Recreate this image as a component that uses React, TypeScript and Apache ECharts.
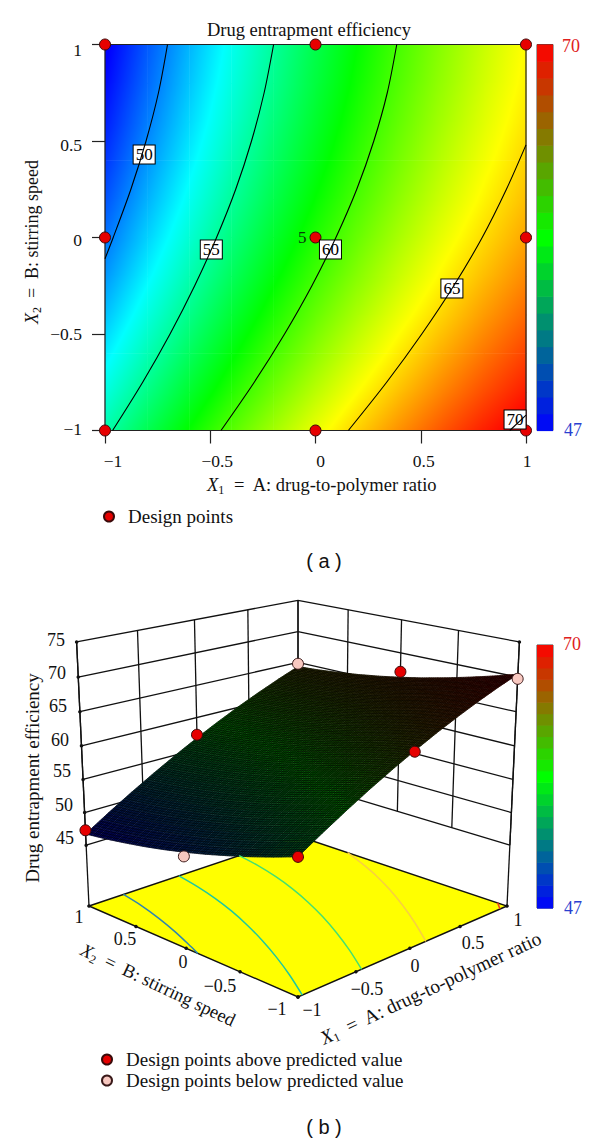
import React, { useEffect, useRef } from "react";
import * as echarts from "echarts";

const SERIF = '"Liberation Serif", serif';

// ---------- data ----------
const x1Nodes = [-1, -0.8, -0.6, -0.4, -0.2, 0, 0.2, 0.4, 0.6, 0.8, 1];
const x2Nodes = [1, 0.8, 0.6, 0.4, 0.2, 0, -0.2, -0.4, -0.6, -0.8, -1];
const efficiencyRows = [
  [46.74, 48.96, 51.07, 53.08, 54.99, 56.8, 58.51, 60.11, 61.6, 63.0, 64.3],
  [47.13, 49.33, 51.42, 53.42, 55.31, 57.1, 58.79, 60.37, 61.85, 63.23, 64.51],
  [47.62, 49.8, 51.87, 53.85, 55.73, 57.5, 59.17, 60.74, 62.2, 63.56, 64.82],
  [48.18, 50.35, 52.4, 54.37, 56.22, 57.98, 59.64, 61.18, 62.63, 63.97, 65.22],
  [48.83, 50.98, 53.02, 54.96, 56.8, 58.54, 60.18, 61.71, 63.13, 64.46, 65.69],
  [49.58, 51.71, 53.73, 55.66, 57.48, 59.2, 60.82, 62.33, 63.74, 65.05, 66.26],
  [50.41, 52.52, 54.52, 56.44, 58.24, 59.94, 61.54, 63.03, 64.43, 65.72, 66.91],
  [51.34, 53.43, 55.42, 57.31, 59.1, 60.78, 62.36, 63.84, 65.21, 66.49, 67.66],
  [52.34, 54.42, 56.39, 58.27, 60.03, 61.7, 63.27, 64.72, 66.08, 67.34, 68.5],
  [53.43, 55.49, 57.44, 59.3, 61.05, 62.7, 64.25, 65.69, 67.03, 68.27, 69.41],
  [54.62, 56.66, 58.59, 60.44, 62.17, 63.8, 65.33, 66.75, 68.08, 69.3, 70.42],
];

const contour50 = [[-0.703, 1], [-0.746, 0.75], [-0.805, 0.5], [-0.877, 0.25], [-0.961, 0], [-1, -0.11]];
const contour55 = [[-0.199, 1], [-0.244, 0.75], [-0.304, 0.5], [-0.379, 0.25], [-0.47, 0], [-0.574, -0.25], [-0.691, -0.5], [-0.821, -0.75], [-0.964, -1]];
const contour60 = [[0.386, 1], [0.341, 0.75], [0.277, 0.5], [0.196, 0.25], [0.097, 0], [-0.017, -0.25], [-0.147, -0.5], [-0.291, -0.75], [-0.449, -1]];
const contour65 = [[1, 0.48], [0.907, 0.25], [0.792, 0], [0.657, -0.25], [0.505, -0.5], [0.338, -0.75], [0.156, -1]];
const contour70 = [[1, -0.92], [0.923, -1]];

const contourLabels = [
  { value: [-0.814, 0.43], text: "50" },
  { value: [-0.495, -0.062], text: "55" },
  { value: [0.071, -0.062], text: "60" },
  { value: [0.648, -0.264], text: "65" },
  { value: [0.948, -0.943], text: "70" },
];

const designX1 = [-1, 0, 1];
const designX2 = [1, 0, -1];
const centerReplicates = "5";

const axisTicks = [-1, -0.5, 0, 0.5, 1];
const axisTickLabels = ["−1", "−0.5", "0", "0.5", "1"];
const colorbarLevels = [47, 48, 49, 50, 51, 52, 53, 54, 55, 56, 57, 58, 59, 60, 61, 62, 63, 64, 65, 66, 67, 68, 69];

const pointsAbove = [[-1, 1, 47.3], [-1, -1, 54.6], [0, 1, 57.3], [0, -1, 63.65], [1, 0, 67.1]];
const pointsBelow = [[-1, 0, 48.97], [1, -1, 69.75]];
const pointsBelowBehind = [[1, 1, 64.76]];
const stems = [[0, 1, 57.3, 0, 1, 56.8], [1, 0, 67.1, 1, 0, 66.26]];

const zTicks = [45, 50, 55, 60, 65, 70, 75];
const zTickLabels = ["45", "50", "55", "60", "65", "70", "75"];
const zLabelPos = [[65, 838], [64, 805], [62, 771], [60, 740], [58, 706], [57, 673], [56, 640]];
const x2FloorLabelPos = [[277, 1009], [220, 986], [183, 962], [125, 939], [79, 917]];
const x1FloorLabelPos = [[312, 1010], [367, 989], [415, 966], [473, 943], [518, 920]];

const floorColors = { 50: "#2f86b0", 55: "#1fc8a0", 60: "#45e070", 65: "#f8d040", 70: "#f04020" };

// ---------- scales ----------
const FLOOR_Z = 35.5;
const TOP_Z = 75;
function project(x1: number, x2: number, z: number) {
  const u = (x1 - x2) / 2;
  const v = (x1 + x2) / 2;
  const t = (z - FLOOR_Z) / (TOP_Z - FLOOR_Z);
  const w = 1 + 0.1304 * v - 0.056 * t;
  return [298 + (209 * u) / w, (906 + 39 * v - 300 * t) / w];
}

type RGB = number[];
const rainbowStops: [number, RGB][] = [
  [47, [0, 0, 255]],
  [52.75, [0, 255, 255]],
  [58.5, [0, 255, 0]],
  [64.25, [255, 255, 0]],
  [70, [255, 0, 0]],
];
const rgbStops: [number, RGB][] = [
  [47, [0, 0, 255]],
  [58.5, [0, 255, 0]],
  [70, [255, 0, 0]],
];
function ramp(stops: [number, RGB][], v: number, k = 1) {
  const c = Math.min(stops[stops.length - 1][0], Math.max(stops[0][0], v));
  for (let i = 1; i < stops.length; i++) {
    if (c <= stops[i][0]) {
      const f = (c - stops[i - 1][0]) / (stops[i][0] - stops[i - 1][0]);
      const a = stops[i - 1][1];
      const b = stops[i][1];
      return `rgb(${Math.round((a[0] + (b[0] - a[0]) * f) * k)},${Math.round((a[1] + (b[1] - a[1]) * f) * k)},${Math.round((a[2] + (b[2] - a[2]) * f) * k)})`;
    }
  }
  return "#000";
}

function cellFill(px: number, py: number, w: number, h: number, tl: number, tr: number, bl: number, br: number) {
  const gx = ((tr - tl + br - bl) / 2) / w;
  const gy = ((bl - tl + br - tr) / 2) / h;
  const vc = (tl + tr + bl + br) / 4;
  const dv = (Math.abs(gx) * w) / 2 + (Math.abs(gy) * h) / 2 + 0.01;
  const g2 = gx * gx + gy * gy;
  const cx = px + w / 2;
  const cy = py + h / 2;
  const lo = vc - dv;
  const hi = vc + dv;
  const offs = [0, 1];
  rainbowStops.forEach(([b]) => {
    if (b > lo && b < hi) offs.push((b - lo) / (hi - lo));
  });
  offs.sort((a, b) => a - b);
  return new echarts.graphic.LinearGradient(
    cx - (gx / g2) * dv,
    cy - (gy / g2) * dv,
    cx + (gx / g2) * dv,
    cy + (gy / g2) * dv,
    offs.map((o) => ({ offset: o, color: ramp(rainbowStops, lo + o * (hi - lo)) })),
    true
  );
}

function efficiencyAt(x1: number, x2: number) {
  const fx = Math.min(9.999, Math.max(0, (x1 + 1) / 0.2));
  const fy = Math.min(9.999, Math.max(0, (1 - x2) / 0.2));
  const i = Math.floor(fx);
  const j = Math.floor(fy);
  const a = fx - i;
  const b = fy - j;
  const r0 = efficiencyRows[j];
  const r1 = efficiencyRows[j + 1];
  return (r0[i] * (1 - a) + r0[i + 1] * a) * (1 - b) + (r1[i] * (1 - a) + r1[i + 1] * a) * b;
}

// ---------- derived series data ----------
const heatCells: number[][] = [];
for (let j = 0; j < x2Nodes.length - 1; j++) {
  for (let i = 0; i < x1Nodes.length - 1; i++) {
    heatCells.push([
      x1Nodes[i], x2Nodes[j], x1Nodes[i + 1], x2Nodes[j + 1],
      efficiencyRows[j][i], efficiencyRows[j][i + 1], efficiencyRows[j + 1][i], efficiencyRows[j + 1][i + 1],
    ]);
  }
}
const designGrid: number[][] = [];
designX1.forEach((a) => designX2.forEach((b) => designGrid.push([a, b])));

const wallSegments: number[][] = [];
zTicks.forEach((z) => {
  wallSegments.push([-1, 1, z, 1, 1, z]);
  wallSegments.push([1, 1, z, 1, -1, z]);
});
axisTicks.forEach((t) => {
  wallSegments.push([t, 1, 45, t, 1, 75]);
  wallSegments.push([1, t, 45, 1, t, 75]);
});
wallSegments.push([-1, 1, FLOOR_Z, -1, 1, 75]);
wallSegments.push([1, -1, FLOOR_Z, 1, -1, 75]);

const floorCorners = [[-1, 1], [1, 1], [1, -1], [-1, -1]];
const tickDots: number[][] = [];
zTicks.forEach((z) => tickDots.push(project(-1, 1, z)));
axisTicks.forEach((t) => {
  tickDots.push(project(-1, t, FLOOR_Z));
  tickDots.push(project(t, -1, FLOOR_Z));
});
tickDots.push(project(1, -1, 75));

function segmentRender(params: any, api: any) {
  const a = api.coord(project(api.value(0), api.value(1), api.value(2)));
  const b = api.coord(project(api.value(3), api.value(4), api.value(5)));
  return {
    type: "line",
    shape: { x1: a[0], y1: a[1], x2: b[0], y2: b[1] },
    style: { stroke: "#111", lineWidth: 1.3, fill: "none" },
  };
}

function surfaceRender(params: any, api: any) {
  const children: any[] = [];
  const K = 30;
  for (let i = 0; i < K; i++) {
    for (let j = 0; j < K; j++) {
      const a0 = -1 + (2 * i) / K;
      const a1 = -1 + (2 * (i + 1)) / K;
      const b0 = -1 + (2 * j) / K;
      const b1 = -1 + (2 * (j + 1)) / K;
      const pts = [[a0, b0], [a1, b0], [a1, b1], [a0, b1]].map((p) =>
        api.coord(project(p[0], p[1], efficiencyAt(p[0], p[1])))
      );
      const c = ramp(rgbStops, efficiencyAt((a0 + a1) / 2, (b0 + b1) / 2), 0.36);
      children.push({
        type: "polygon",
        shape: { points: pts },
        style: { fill: c, stroke: c, lineWidth: 0.5 },
      });
    }
  }
  const LINES = 100;
  for (let n = 0; n <= LINES; n++) {
    const c = -1 + (2 * n) / LINES;
    const l1: number[][] = [];
    const l2: number[][] = [];
    for (let s = 0; s <= 20; s++) {
      const t = -1 + s / 10;
      l1.push(api.coord(project(c, t, efficiencyAt(c, t))));
      l2.push(api.coord(project(t, c, efficiencyAt(t, c))));
    }
    children.push({ type: "polyline", shape: { points: l1 }, style: { stroke: "#000", lineWidth: 0.7, opacity: 0.75, fill: "none" } });
    children.push({ type: "polyline", shape: { points: l2 }, style: { stroke: "#000", lineWidth: 0.7, opacity: 0.75, fill: "none" } });
  }
  return { type: "group", children };
}

function colorbarRender(params: any, api: any) {
  const v = api.value(0);
  const a = api.coord([0, v + 1]);
  const b = api.coord([1, v]);
  return {
    type: "rect",
    shape: { x: a[0], y: a[1], width: b[0] - a[0], height: b[1] - a[1] + 0.6 },
    style: { fill: ramp(rgbStops, v + 0.5) },
  };
}

function texts() {
  const out: any[] = [];
  const add = (x: number, y: number, text: string, extra: any = {}, rotation = 0) =>
    out.push({
      type: "text",
      x,
      y,
      rotation,
      z: 20,
      style: { text, fontFamily: SERIF, fontSize: 18, fill: "#111", align: "center", verticalAlign: "middle", ...extra },
    });
  const richOf = (size: number) => ({
    i: { fontFamily: SERIF, fontSize: size, fontStyle: "italic", fill: "#111", lineHeight: 22 },
    s: { fontFamily: SERIF, fontSize: 12, fill: "#111", verticalAlign: "bottom" },
    n: { fontFamily: SERIF, fontSize: size, fill: "#111", lineHeight: 22 },
  });
  add(309, 30, "Drug entrapment efficiency", { fontSize: 18.5 });
  add(322, 485, "{i|X}{s|1}{n|  =  A: drug-to-polymer ratio}", { rich: richOf(18.5) });
  add(32, 242, "{i|X}{s|2}{n|  =  B: stirring speed}", { rich: richOf(18) }, Math.PI / 2);
  add(571, 46, "70", { fill: "#e02020" });
  add(573, 430, "47", { fill: "#2a3fd0" });
  add(572, 644, "70", { fill: "#e02020" });
  add(573, 908, "47", { fill: "#2a3fd0" });
  add(324, 561, "( a )", { fontFamily: '"Liberation Sans", sans-serif', fontSize: 20 });
  add(324, 1127, "( b )", { fontFamily: '"Liberation Sans", sans-serif', fontSize: 20 });
  add(32, 778, "Drug entrapment efficiency", { fontSize: 19 }, Math.PI / 2);
  zTickLabels.forEach((t, i) => add(zLabelPos[i][0], zLabelPos[i][1], t));
  axisTickLabels.forEach((t, i) => {
    add(x2FloorLabelPos[i][0], x2FloorLabelPos[i][1], t);
    add(x1FloorLabelPos[i][0], x1FloorLabelPos[i][1], t);
  });
  add(158, 985, "{i|X}{s|2}{n|  =  B: stirring speed}", { rich: richOf(18.5) }, -0.445);
  add(431, 988, "{i|X}{s|1}{n|  =  A: drug-to-polymer ratio}", { rich: richOf(19.5) }, 0.436);
  return out;
}

const xShift = [16, 14, 10, 6, 2];
const yShift = [-4, 0, 4, 8, 10];

const redPoint = { color: "#e60000", borderColor: "#3a0a0a", borderWidth: 1, opacity: 1 };
const pinkPoint = { color: "#f8c8c0", borderColor: "#3a1a1a", borderWidth: 1, opacity: 1 };

function buildOption() {
  const rich: any = {};
  axisTicks.forEach((_, i) => {
    rich["x" + i] = { fontFamily: SERIF, fontSize: 17.5, color: "#111", padding: [0, 0, 0, xShift[i]] };
    rich["y" + i] = {
      fontFamily: SERIF,
      fontSize: 17.5,
      color: "#111",
      padding: yShift[i] >= 0 ? [yShift[i], 0, 0, 0] : [0, 0, -yShift[i], 0],
    };
  });
  const tickFormatter = (p: string) => (v: number) => `{${p}${axisTicks.indexOf(v)}|${axisTickLabels[axisTicks.indexOf(v)]}}`;
  const axisBase = {
    type: "value",
    min: -1,
    max: 1,
    interval: 0.5,
    splitLine: { show: false },
    axisLine: { show: true, onZero: false, lineStyle: { color: "#222", width: 1.2 } },
    axisTick: { show: true, length: 13, lineStyle: { color: "#222", width: 1.2 } },
  };
  const hidden = (min: number, max: number, gridIndex: number, inverse = false) => ({
    type: "value",
    min,
    max,
    gridIndex,
    inverse,
    show: false,
  });
  const floor = (c: number[][]) => c.map((p) => project(p[0], p[1], FLOOR_Z));

  const contourLine = (data: number[][]) => ({
    type: "line",
    xAxisIndex: 0,
    yAxisIndex: 0,
    data,
    smooth: 0.3,
    showSymbol: false,
    clip: false,
    silent: true,
    lineStyle: { color: "#000", width: 1.1 },
  });
  const floorLine = (data: number[][], color: string) => ({
    type: "line",
    xAxisIndex: 2,
    yAxisIndex: 2,
    data: floor(data),
    smooth: 0.3,
    showSymbol: false,
    clip: false,
    silent: true,
    lineStyle: { color, width: 1.5 },
  });

  return {
    animation: false,
    backgroundColor: "#fff",
    grid: [
      { left: 105, top: 44.5, width: 421, height: 386 },
      { left: 537, top: 44.5, width: 16, height: 386, show: true, borderColor: "#444", borderWidth: 1 },
      { left: 0, top: 0, width: 600, height: 1143 },
      { left: 537, top: 645, width: 16, height: 263, show: true, borderColor: "#444", borderWidth: 1 },
    ],
    xAxis: [
      {
        ...axisBase,
        gridIndex: 0,
        position: "bottom",
        axisLabel: { margin: 21, formatter: tickFormatter("x"), rich },
      },
      hidden(0, 1, 1),
      hidden(0, 600, 2),
      hidden(0, 1, 3),
    ],
    yAxis: [
      {
        ...axisBase,
        gridIndex: 0,
        position: "left",
        axisLabel: { margin: 23, formatter: tickFormatter("y"), rich },
      },
      hidden(47, 70, 1),
      hidden(0, 1143, 2, true),
      hidden(47, 70, 3),
    ],
    legend: [
      {
        left: 103,
        top: 507,
        padding: 0,
        itemWidth: 28,
        itemHeight: 10,
        data: ["Design points"],
        textStyle: { fontFamily: SERIF, fontSize: 19, color: "#111" },
      },
      {
        left: 101,
        top: 1050,
        padding: 0,
        orient: "vertical",
        itemGap: 2,
        itemWidth: 28,
        itemHeight: 10,
        data: ["Design points above predicted value", "Design points below predicted value"],
        textStyle: { fontFamily: SERIF, fontSize: 19, color: "#111" },
      },
    ],
    graphic: { elements: texts() },
    series: [
      {
        type: "custom",
        xAxisIndex: 0,
        yAxisIndex: 0,
        clip: false,
        silent: true,
        data: heatCells,
        renderItem: (_: any, api: any) => {
          const a = api.coord([api.value(0), api.value(1)]);
          const b = api.coord([api.value(2), api.value(3)]);
          const w = b[0] - a[0];
          const h = b[1] - a[1];
          return {
            type: "rect",
            shape: { x: a[0], y: a[1], width: w + 0.5, height: h + 0.5 },
            style: { fill: cellFill(a[0], a[1], w, h, api.value(4), api.value(5), api.value(6), api.value(7)) },
          };
        },
      },
      contourLine(contour50),
      contourLine(contour55),
      contourLine(contour60),
      contourLine(contour65),
      contourLine(contour70),
      {
        type: "custom",
        xAxisIndex: 0,
        yAxisIndex: 0,
        clip: false,
        silent: true,
        data: [[-1, 1, 1, -1]],
        renderItem: (_: any, api: any) => {
          const a = api.coord([api.value(0), api.value(1)]);
          const b = api.coord([api.value(2), api.value(3)]);
          return {
            type: "rect",
            shape: { x: a[0], y: a[1], width: b[0] - a[0], height: b[1] - a[1] },
            style: { fill: "none", stroke: "#222", lineWidth: 1.2 },
          };
        },
      },
      {
        type: "scatter",
        xAxisIndex: 0,
        yAxisIndex: 0,
        symbolSize: 0,
        clip: false,
        silent: true,
        itemStyle: { opacity: 1 },
        data: contourLabels.map((l) => ({
          value: l.value,
          label: {
            show: true,
            position: "inside",
            opacity: 1,
            formatter: l.text,
            fontFamily: SERIF,
            fontSize: 17,
            color: "#000",
            backgroundColor: "#fff",
            borderColor: "#000",
            borderWidth: 1,
            padding: [1, 2, 0, 2],
          },
        })),
      },
      {
        name: "Design points",
        type: "scatter",
        xAxisIndex: 0,
        yAxisIndex: 0,
        symbolSize: 11,
        clip: false,
        silent: true,
        itemStyle: redPoint,
        data: designGrid.map((p) =>
          p[0] === 0 && p[1] === 0
            ? {
                value: p,
                label: { show: true, position: "left", distance: 3, opacity: 1, formatter: centerReplicates, fontFamily: SERIF, fontSize: 17, color: "#0a3a0a" },
              }
            : { value: p }
        ),
      },
      { type: "custom", xAxisIndex: 1, yAxisIndex: 1, silent: true, data: colorbarLevels.map((v) => [v]), encode: { y: 0 }, renderItem: colorbarRender },
      { type: "custom", xAxisIndex: 3, yAxisIndex: 3, silent: true, data: colorbarLevels.map((v) => [v]), encode: { y: 0 }, renderItem: colorbarRender },

      // ----- response surface -----
      { type: "custom", xAxisIndex: 2, yAxisIndex: 2, clip: false, silent: true, data: wallSegments, renderItem: segmentRender },
      {
        type: "custom",
        xAxisIndex: 2,
        yAxisIndex: 2,
        clip: false,
        silent: true,
        data: [[0, 0]],
        renderItem: (_: any, api: any) => ({
          type: "polygon",
          shape: { points: floorCorners.map((c) => api.coord(project(c[0], c[1], FLOOR_Z))) },
          style: { fill: "#ffff00", stroke: "#111", lineWidth: 1.4 },
        }),
      },
      floorLine(contour50, floorColors[50]),
      floorLine(contour55, floorColors[55]),
      floorLine(contour60, floorColors[60]),
      floorLine(contour65, floorColors[65]),
      floorLine(contour70, floorColors[70]),
      {
        type: "scatter",
        xAxisIndex: 2,
        yAxisIndex: 2,
        symbolSize: 3.5,
        clip: false,
        silent: true,
        itemStyle: { color: "#111", opacity: 1 },
        data: tickDots,
      },
      {
        name: "Back design point",
        type: "scatter",
        xAxisIndex: 2,
        yAxisIndex: 2,
        symbolSize: 11,
        clip: false,
        silent: true,
        itemStyle: pinkPoint,
        data: pointsBelowBehind.map((p) => project(p[0], p[1], p[2])),
      },
      {
        type: "custom",
        xAxisIndex: 2,
        yAxisIndex: 2,
        clip: false,
        silent: true,
        data: [[0, 0]],
        renderItem: surfaceRender,
      },
      { type: "custom", xAxisIndex: 2, yAxisIndex: 2, clip: false, silent: true, data: stems, renderItem: segmentRender },
      {
        name: "Design points above predicted value",
        type: "scatter",
        xAxisIndex: 2,
        yAxisIndex: 2,
        symbolSize: 11,
        clip: false,
        silent: true,
        itemStyle: redPoint,
        data: pointsAbove.map((p) => project(p[0], p[1], p[2])),
      },
      {
        name: "Design points below predicted value",
        type: "scatter",
        xAxisIndex: 2,
        yAxisIndex: 2,
        symbolSize: 11,
        clip: false,
        silent: true,
        itemStyle: pinkPoint,
        data: pointsBelow.map((p) => project(p[0], p[1], p[2])),
      },
    ],
  };
}

export default function App() {
  const ref = useRef<HTMLDivElement>(null);
  useEffect(() => {
    const chart = echarts.init(ref.current!, undefined, { renderer: "svg" });
    chart.setOption(buildOption() as any);
    return () => chart.dispose();
  }, []);
  return <div ref={ref} style={{ position: "absolute", left: 0, top: 0, width: 600, height: 1143, background: "#fff" }} />;
}
